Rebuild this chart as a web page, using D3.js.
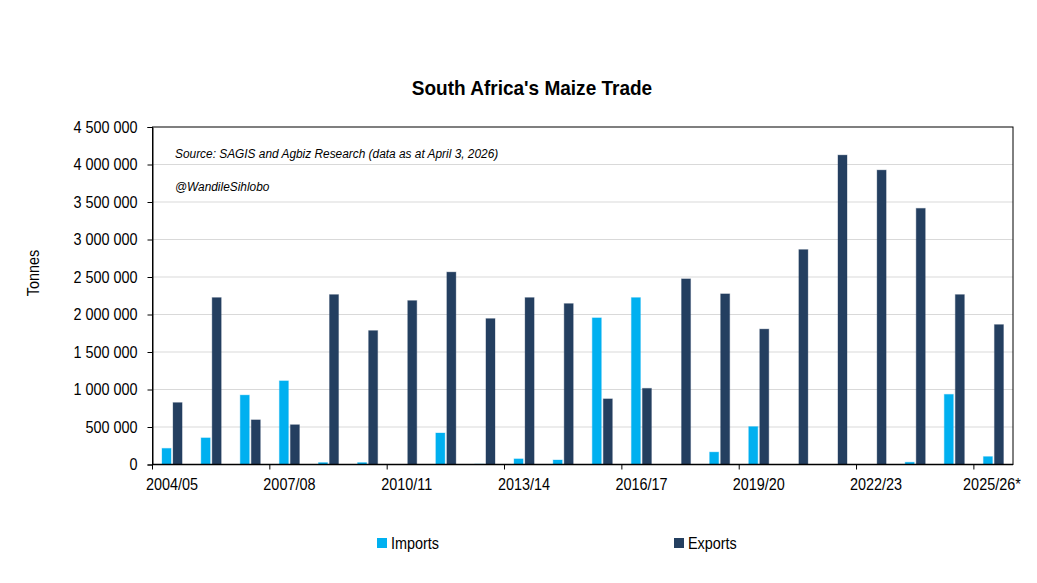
<!DOCTYPE html>
<html>
<head>
<meta charset="utf-8">
<script src="https://cdn.jsdelivr.net/npm/d3@7"></script>
<style>
html, body { margin: 0; padding: 0; background: #fff; }
text { font-family: "Liberation Sans", Arial, sans-serif; fill: #000; }
</style>
</head>
<body>
<div id="chart"></div>
<script>
var seasons = ["2004/05","2005/06","2006/07","2007/08","2008/09","2009/10","2010/11","2011/12","2012/13","2013/14","2014/15","2015/16","2016/17","2017/18","2018/19","2019/20","2020/21","2021/22","2022/23","2023/24","2024/25","2025/26*"];
var imports = [215000,355000,925000,1115000,25000,25000,0,420000,5000,75000,60000,1955000,2225000,0,165000,505000,0,0,0,30000,935000,105000];
var exports_ = [825000,2225000,595000,530000,2265000,1785000,2185000,2565000,1945000,2225000,2145000,875000,1015000,2475000,2275000,1805000,2865000,4125000,3925000,3415000,2265000,1865000];
var yTicks = [0,500000,1000000,1500000,2000000,2500000,3000000,3500000,4000000,4500000];
var seriesNames = ["Imports","Exports"];
var seriesColors = ["#00b0f0","#243f60"];

var width = 1037, height = 583;
var left = 152.5, right = 1013, top_ = 127, bottom = 464.5;

var svg = d3.select("#chart").append("svg")
	.attr("width", width)
	.attr("height", height)
	.style("display", "block");

var x = d3.scaleBand().domain(seasons).range([left, right]);
var inner = d3.scaleBand().domain(seriesNames).range([0, x.bandwidth()]).paddingInner(0.18).paddingOuter(0.865);
var y = d3.scaleLinear().domain([0, 4500000]).range([bottom, top_]);

var fmt = function(d) { return d3.format(",")(d).replace(/,/g, " "); };

// the reference type is narrower than the installed Arial metric font
function squeeze(sel, ratio) {
	sel.each(function() {
		d3.select(this)
			.attr("textLength", this.getComputedTextLength() * ratio)
			.attr("lengthAdjust", "spacingAndGlyphs");
	});
}

// gridlines
svg.append("g").selectAll("line")
	.data(yTicks.slice(1, -1))
	.enter().append("line")
	.attr("x1", left).attr("x2", right)
	.attr("y1", function(d) { return y(d); })
	.attr("y2", function(d) { return y(d); })
	.attr("stroke", "#d9d9d9")
	.attr("stroke-width", 1);

// bars
[imports, exports_].forEach(function(vals, k) {
	svg.append("g").selectAll("rect")
		.data(vals)
		.enter().append("rect")
		.attr("x", function(d, i) { return x(seasons[i]) + inner(seriesNames[k]); })
		.attr("y", function(d) { return y(d); })
		.attr("width", inner.bandwidth())
		.attr("height", function(d) { return bottom - y(d); })
		.attr("fill", seriesColors[k])
		.attr("stroke", seriesColors[k])
		.attr("stroke-opacity", 0.35)
		.attr("stroke-width", 1);
});

// frame
svg.append("rect")
	.attr("x", left).attr("y", top_)
	.attr("width", right - left).attr("height", bottom - top_)
	.attr("fill", "none").attr("stroke", "#000").attr("stroke-width", 1);

// y axis
var yAxis = svg.append("g")
	.attr("transform", "translate(" + left + ",0)")
	.call(d3.axisLeft(y).tickValues(yTicks).tickFormat(fmt).tickSize(5).tickPadding(10));
yAxis.select(".domain").attr("stroke", "#000");
yAxis.selectAll("text").style("font-size", "16px").call(squeeze, 0.9);

// x axis, ticks sit on the left edge of every third band
var xAxis = svg.append("g").attr("transform", "translate(0," + bottom + ")");
xAxis.append("line").attr("x1", left).attr("x2", right).attr("stroke", "#000").attr("stroke-width", 1.5);
var shown = seasons.filter(function(d, i) { return i % 3 == 0; });
xAxis.selectAll("line.tick")
	.data(shown)
	.enter().append("line")
	.attr("class", "tick")
	.attr("x1", function(d) { return x(d); })
	.attr("x2", function(d) { return x(d); })
	.attr("y1", 0).attr("y2", 5)
	.attr("stroke", "#000");
xAxis.selectAll("text")
	.data(shown)
	.enter().append("text")
	.attr("x", function(d) { return x(d) + x.bandwidth() / 2 - (d == "2025/26*" ? 1.5 : 0); })
	.attr("y", 25)
	.attr("text-anchor", "middle")
	.style("font-size", "16px")
	.text(function(d) { return d; })
	.call(squeeze, 0.9);

// title and labels
svg.append("text")
	.attr("x", 532).attr("y", 95)
	.attr("text-anchor", "middle")
	.style("font-size", "21px")
	.style("font-weight", "bold")
	.text("South Africa's Maize Trade")
	.call(squeeze, 0.905);

svg.append("text")
	.attr("transform", "translate(39,273) rotate(-90)")
	.attr("text-anchor", "middle")
	.style("font-size", "16px")
	.text("Tonnes")
	.call(squeeze, 0.9);

svg.append("text")
	.attr("x", 175).attr("y", 158)
	.style("font-size", "12.5px")
	.style("font-style", "italic")
	.text("Source: SAGIS and Agbiz Research (data as at April 3, 2026)")
	.call(squeeze, 0.95);

svg.append("text")
	.attr("x", 175).attr("y", 191)
	.style("font-size", "12.5px")
	.style("font-style", "italic")
	.text("@WandileSihlobo")
	.call(squeeze, 0.95);

// legend
var legendX = [377, 674];
seriesNames.forEach(function(name, k) {
	svg.append("rect")
		.attr("x", legendX[k]).attr("y", 538)
		.attr("width", 10).attr("height", 10)
		.attr("fill", seriesColors[k]);
	svg.append("text")
		.attr("x", legendX[k] + 14).attr("y", 549)
		.style("font-size", "16px")
		.text(name)
		.call(squeeze, 0.9);
});
</script>
</body>
</html>
